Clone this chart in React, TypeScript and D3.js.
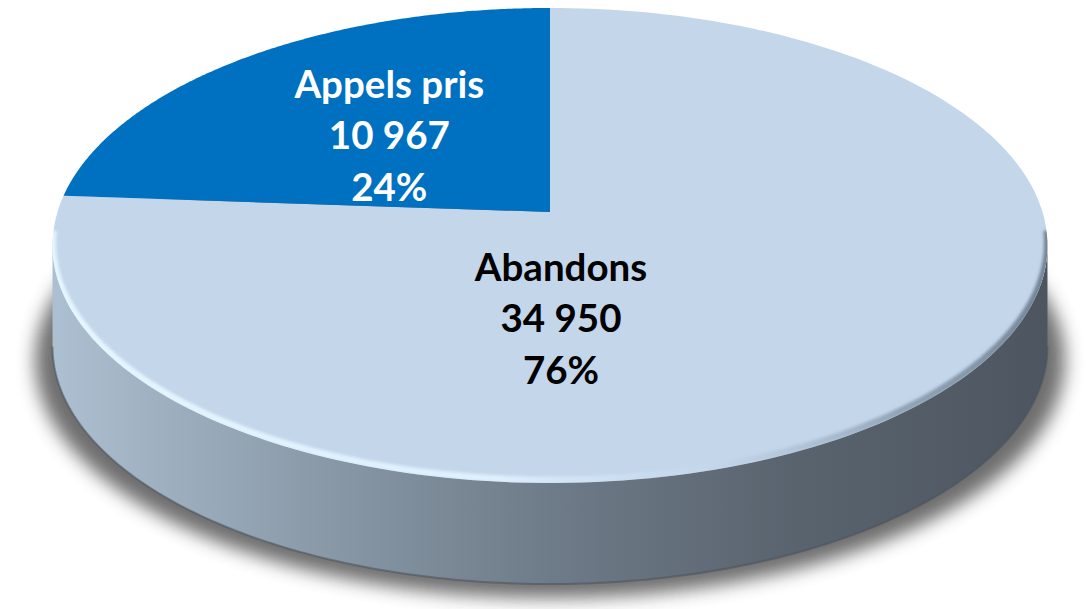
import React from "react";
import * as d3 from "d3";

const categories = ["Abandons", "Appels pris"];
const values = [34950, 10967];
const valueLabels = ["34 950", "10 967"];
const percentLabels = ["76%", "24%"];
const sliceColors = ["#c3d6ea", "#0070c0"];
const textColors = ["#000000", "#ffffff"];

const W = 1089;
const H = 609;
// perspective ellipse parameters
const CX = 550;
const CY = 212;
const E = 0.141;
const B = 232.8;
const A = 492.5;
const DEPTH = 101;

function proj(t: number, r = 1, dy = 0): [number, number] {
  const s = Math.sin(t) * r;
  const c = Math.cos(t) * r;
  const w = 1 - E * s;
  return [CX + (A * c) / w, CY + (B * s) / w + dy];
}

function arcPoints(t0: number, t1: number, dy = 0, n = 200): [number, number][] {
  const pts: [number, number][] = [];
  for (let i = 0; i <= n; i++) {
    const t = t0 + ((t1 - t0) * i) / n;
    pts.push(proj(t, 1, dy));
  }
  return pts;
}

const line = d3.line<[number, number]>().x((d) => d[0]).y((d) => d[1]);

export default function App() {
  const pie = d3.pie<number>().sort(null).value((d) => d);
  const arcs = pie(values);
  const toT = (a: number) => a - Math.PI / 2;

  const tL = Math.asin(E);
  const tR = Math.PI - Math.asin(E);
  const topFront = arcPoints(tL, tR);
  const botFront = arcPoints(tL, tR, DEPTH);
  const sidePath = line([...topFront, ...botFront.reverse()]) + "Z";

  const shadowPts = arcPoints(0, 2 * Math.PI, DEPTH).map(
    ([x, y]) => [CX + (x - CX) * 1.035, y + 14] as [number, number]
  );
  const shadowPath = line(shadowPts) + "Z";

  const slicePaths = arcs.map((a) => {
    const pts = arcPoints(toT(a.startAngle), toT(a.endAngle));
    return line([[CX, CY], ...pts]) + "Z";
  });

  const rimPath = line(arcPoints(tL - 0.05, tR + 0.05));
  const bottomEdge = line(arcPoints(tL, tR, DEPTH));

  // label anchors
  const appMid = (arcs[1].startAngle + arcs[1].endAngle) / 2;
  const appPos = proj(toT(appMid), 0.5);
  const labelPos: [number, number][] = [
    [561, 332],
    [appPos[0] - 1, appPos[1] + 18],
  ];
  const LH = 51.5;

  return (
    <svg
      width={W}
      height={H}
      style={{ position: "absolute", left: 0, top: 0, display: "block" }}
    >
      <defs>
        <linearGradient id="sideGrad" gradientUnits="userSpaceOnUse" x1={52} x2={1047} y1={0} y2={0}>
          <stop offset="0" stopColor="#adc0d1" />
          <stop offset="0.25" stopColor="#8c9cab" />
          <stop offset="0.5" stopColor="#6e7b88" />
          <stop offset="0.75" stopColor="#59636e" />
          <stop offset="1" stopColor="#4d5660" />
        </linearGradient>
        <linearGradient id="rimGrad" gradientUnits="userSpaceOnUse" x1={52} x2={1047} y1={0} y2={0}>
          <stop offset="0" stopColor="#e6f6ff" stopOpacity="1" />
          <stop offset="0.45" stopColor="#e0f1ff" stopOpacity="0.95" />
          <stop offset="0.65" stopColor="#c9dcee" stopOpacity="0.4" />
          <stop offset="0.85" stopColor="#7d8fa2" stopOpacity="0.7" />
          <stop offset="1" stopColor="#6b7b8c" stopOpacity="0.9" />
        </linearGradient>
        <filter id="shadowBlur" x="-10%" y="-20%" width="120%" height="140%">
          <feGaussianBlur stdDeviation="9" />
        </filter>
        <filter id="rimBlur" x="-5%" y="-20%" width="110%" height="140%">
          <feGaussianBlur stdDeviation="1.6" />
        </filter>
        <clipPath id="topClip">
          <path d={line(arcPoints(0, 2 * Math.PI)) + "Z"} />
        </clipPath>
      </defs>
      <rect width={W} height={H} fill="#ffffff" />
      <path d={shadowPath} fill="#5e5e5e" opacity={0.9} filter="url(#shadowBlur)" />
      <path d={sidePath} fill="url(#sideGrad)" />
      <path d={bottomEdge} fill="none" stroke="#4a525b" strokeOpacity={0.55} strokeWidth={2} />
      {slicePaths.map((d, i) => (
        <path key={categories[i]} d={d} fill={sliceColors[i]} />
      ))}
      <g clipPath="url(#topClip)">
        <path
          d={rimPath}
          fill="none"
          stroke="url(#rimGrad)"
          strokeWidth={7}
          filter="url(#rimBlur)"
          transform="translate(0,-3)"
        />
      </g>
      {categories.map((c, i) => (
        <text
          key={c}
          x={labelPos[i][0]}
          y={labelPos[i][1]}
          textAnchor="middle"
          fill={textColors[i]}
          fontFamily="Lato, 'Open Sans', sans-serif"
          fontWeight="bold"
          fontSize={38.5}
        >
          <tspan x={labelPos[i][0]} dy={-LH}>{c}</tspan>
          <tspan x={labelPos[i][0]} dy={LH}>{valueLabels[i]}</tspan>
          <tspan x={labelPos[i][0]} dy={LH}>{percentLabels[i]}</tspan>
        </text>
      ))}
    </svg>
  );
}
